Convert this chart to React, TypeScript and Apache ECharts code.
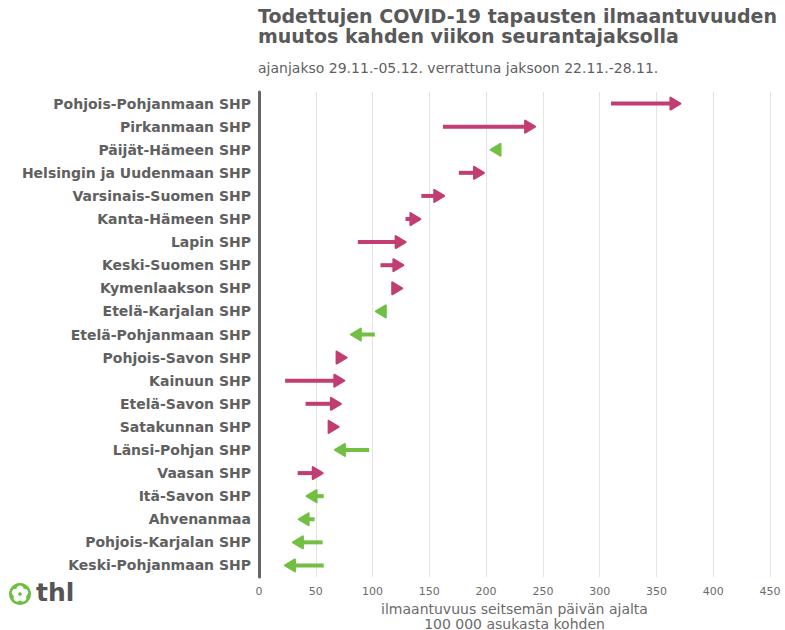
import React, { useEffect, useRef } from "react";
import * as echarts from "echarts";

const categories = [
  "Pohjois-Pohjanmaan SHP",
  "Pirkanmaan SHP",
  "Päijät-Hämeen SHP",
  "Helsingin ja Uudenmaan SHP",
  "Varsinais-Suomen SHP",
  "Kanta-Hämeen SHP",
  "Lapin SHP",
  "Keski-Suomen SHP",
  "Kymenlaakson SHP",
  "Etelä-Karjalan SHP",
  "Etelä-Pohjanmaan SHP",
  "Pohjois-Savon SHP",
  "Kainuun SHP",
  "Etelä-Savon SHP",
  "Satakunnan SHP",
  "Länsi-Pohjan SHP",
  "Vaasan SHP",
  "Itä-Savon SHP",
  "Ahvenanmaa",
  "Pohjois-Karjalan SHP",
  "Keski-Pohjanmaan SHP",
];

// incidence 22.11.-28.11.
const previousValues = [310, 162, 211, 176, 143, 129, 87, 107, 117, 111, 102, 69, 23, 41, 61, 97, 34, 57, 49, 56, 57];
// incidence 29.11.-05.12.
const currentValues = [372, 244, 203, 199, 164, 143, 130, 128, 127, 102, 80, 78, 76, 73, 71, 66, 57, 41, 34, 29, 22];

const xTicks = { min: 0, max: 450, interval: 50 };

const UP = "#c13d72";
const DOWN = "#72bf44";

export default function App() {
  const ref = useRef<HTMLDivElement>(null);
  useEffect(() => {
    if (!ref.current) return;
    const chart = echarts.init(ref.current, undefined, { renderer: "svg" });
    const data = categories.map((c, i) => [previousValues[i], currentValues[i], i]);
    chart.setOption({
      animation: false,
      backgroundColor: "#ffffff",
      title: [
        {
          text: "Todettujen COVID-19 tapausten ilmaantuvuuden\nmuutos kahden viikon seurantajaksolla",
          left: 258,
          top: 6,
          padding: 0,
          textStyle: {
            fontFamily: "DejaVu Sans",
            fontWeight: "bold",
            fontSize: 19,
            lineHeight: 20,
            color: "#595959",
          },
        },
        {
          text: "ajanjakso 29.11.-05.12. verrattuna jaksoon 22.11.-28.11.",
          left: 258,
          top: 61,
          padding: 0,
          textStyle: {
            fontFamily: "DejaVu Sans",
            fontWeight: "normal",
            fontSize: 14,
            color: "#5f5f5f",
          },
        },
      ],
      grid: {
        left: 259,
        right: 15,
        top: 92,
        bottom: 53,
        containLabel: false,
        outerBoundsMode: "none",
      },
      xAxis: {
        type: "value",
        min: xTicks.min,
        max: xTicks.max,
        interval: xTicks.interval,
        axisLine: { show: false },
        axisTick: { show: false },
        splitLine: { show: true, lineStyle: { color: "#e3e3e3", width: 1 } },
        axisLabel: {
          color: "#6b6b6b",
          fontFamily: "DejaVu Sans",
          fontSize: 11,
          margin: 9,
        },
        name: "ilmaantuvuus seitsemän päivän ajalta\n100 000 asukasta kohden",
        nameLocation: "middle",
        nameGap: 20,
        nameTextStyle: {
          color: "#6b6b6b",
          fontFamily: "DejaVu Sans",
          fontSize: 14,
          lineHeight: 15,
          verticalAlign: "top",
        },
      },
      yAxis: {
        type: "category",
        data: categories,
        inverse: true,
        axisLine: { show: true, lineStyle: { color: "#666666", width: 3 } },
        axisTick: { show: false },
        splitLine: { show: false },
        axisLabel: {
          color: "#606060",
          fontFamily: "DejaVu Sans",
          fontWeight: "bold",
          fontSize: 14,
          margin: 8,
        },
      },
      series: [
        {
          type: "custom",
          data,
          encode: { x: [0, 1], y: 2 },
          renderItem: (params: any, api: any) => {
            const s = api.value(0);
            const e = api.value(1);
            const idx = api.value(2);
            const p0 = api.coord([s, idx]);
            const p1 = api.coord([e, idx]);
            const dir = p1[0] >= p0[0] ? 1 : -1;
            const color = dir > 0 ? UP : DOWN;
            const headL = 10;
            const headH = 6;
            const tip = p1[0] - dir * 1;
            const base = tip - dir * headL;
            const y = p1[1];
            const children: any[] = [];
            if (dir * (base - p0[0]) > 0) {
              children.push({
                type: "line",
                shape: { x1: p0[0], y1: y, x2: base + dir * 3, y2: y },
                style: { stroke: color, lineWidth: 4, lineCap: "butt" },
              });
            }
            children.push({
              type: "polygon",
              shape: {
                points: [
                  [tip, y],
                  [base, y - headH],
                  [base, y + headH],
                ],
              },
              style: { fill: color, stroke: color, lineWidth: 2, lineJoin: "round" },
            });
            return { type: "group", children };
          },
        },
      ],
      graphic: [
        {
          type: "group",
          left: 9,
          top: 583,
          children: [
            { type: "circle", shape: { cx: 11, cy: 11, r: 11 }, style: { fill: "#6cbf3f" } },
            ...[0, 1, 2, 3, 4].map((k) => {
              const a = (-90 + k * 72) * (Math.PI / 180);
              return {
                type: "circle",
                shape: { cx: 11 + Math.cos(a) * 4.8, cy: 11 + Math.sin(a) * 4.8, r: 3.7 },
                style: { fill: "#ffffff" },
              };
            }),
            { type: "circle", shape: { cx: 11, cy: 11, r: 1.8 }, style: { fill: "#6cbf3f" } },
          ],
        },
        {
          type: "text",
          left: 36,
          top: 580,
          style: {
            text: "thl",
            fontFamily: "DejaVu Sans",
            fontWeight: "bold",
            fontSize: 25,
            fill: "#555555",
          },
        },
      ],
    });
    return () => chart.dispose();
  }, []);
  return (
    <div
      ref={ref}
      style={{ position: "fixed", left: 0, top: 0, width: 785, height: 630 }}
    />
  );
}
